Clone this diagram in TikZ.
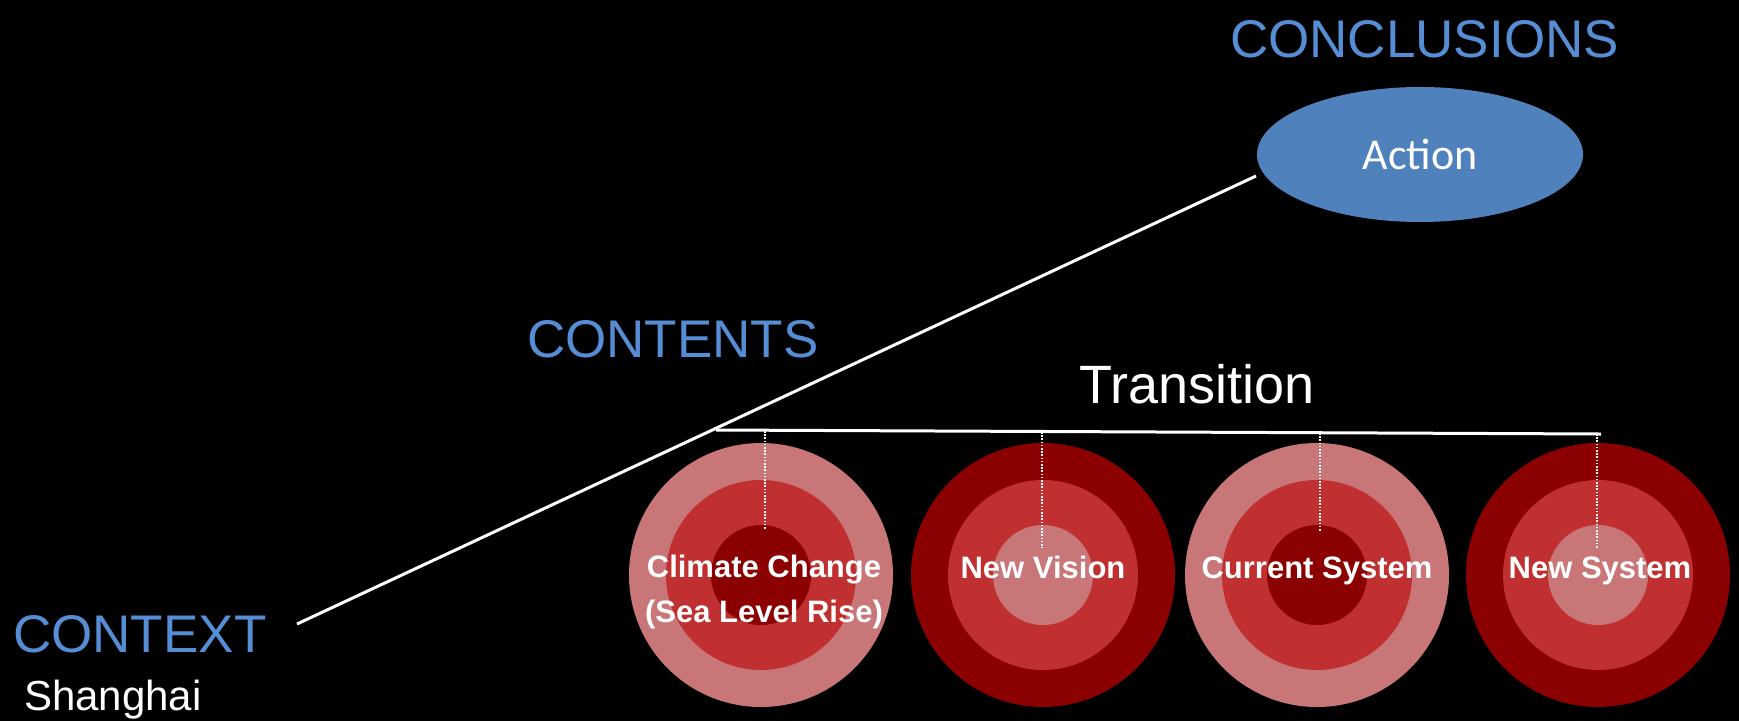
\documentclass[tikz,border=0pt]{standalone}
\usepackage{fontspec}
\setmainfont{Liberation Sans}
\newfontfamily\calib{Carlito}
\usetikzlibrary{shapes.geometric}
\definecolor{hblue}{RGB}{85,142,213}
\definecolor{ellblue}{RGB}{79,129,189}
\definecolor{pinkr}{RGB}{200,118,119}
\definecolor{midr}{RGB}{192,48,48}
\definecolor{darkr}{RGB}{139,0,0}
\begin{document}
\begin{tikzpicture}[x=1pt,y=-1pt,
  ringnode/.style={circle, inner sep=0pt, draw=none, minimum size=#1},
  heading/.style={text=hblue, inner sep=0pt, anchor=base west, font=\fontsize{53}{60}\selectfont},
  lab/.style={text=white, inner sep=0pt, anchor=base, align=center, font=\bfseries\fontsize{31}{45}\selectfont},
  wline/.style={draw=white, line width=3pt},
  dotline/.style={draw=white, line width=1.6pt, dash pattern=on 1.6pt off 1.6pt}]
\fill[black] (0,0) rectangle (1739,721);
\useasboundingbox (0,0) rectangle (1739,721);

% headings
\node[heading] (conclusions) at (1230,57) {CONCLUSIONS};
\node[heading] (contents) at (527,357) {CONTENTS};
\node[heading] (context) at (13,652) {CONTEXT};
\node[text=white, inner sep=0pt, anchor=base west, font=\fontsize{42}{50}\selectfont] (shanghai) at (24,710) {Shanghai};
\node[text=white, inner sep=0pt, anchor=base, font=\fontsize{54}{60}\selectfont] (transition) at (1197,403) {Transition};

% action ellipse
\node[ellipse, fill=ellblue, inner sep=0pt, minimum width=326pt, minimum height=135pt, text=white, font=\calib\fontsize{44}{52}\selectfont] (action) at (1420,154.5) {Action};

% diagonal line
\coordinate (d1) at (297,624);
\coordinate (d2) at (1256,176);
\draw[wline] (d1) -- (d2);

% horizontal line
\coordinate (h1) at (716,430);
\coordinate (h2) at (1601,434);
\draw[wline] (h1) -- (h2);

% circle 1 (pink, red, dark)
\node[ringnode=264pt, fill=pinkr] (c1o) at (761,575) {};
\node[ringnode=190pt, fill=midr] (c1m) at (761,575) {};
\node[ringnode=100pt, fill=darkr] (c1i) at (761,575) {};
% circle 2 (dark, red, pink)
\node[ringnode=264pt, fill=darkr] (c2o) at (1043,575) {};
\node[ringnode=190pt, fill=midr] (c2m) at (1043,575) {};
\node[ringnode=100pt, fill=pinkr] (c2i) at (1043,575) {};
% circle 3 (pink, red, dark)
\node[ringnode=264pt, fill=pinkr] (c3o) at (1317,575) {};
\node[ringnode=190pt, fill=midr] (c3m) at (1317,575) {};
\node[ringnode=100pt, fill=darkr] (c3i) at (1317,575) {};
% circle 4 (dark, red, pink)
\node[ringnode=264pt, fill=darkr] (c4o) at (1598,575) {};
\node[ringnode=190pt, fill=midr] (c4m) at (1598,575) {};
\node[ringnode=100pt, fill=pinkr] (c4i) at (1598,575) {};

% dotted drops
\coordinate (p1t) at (765,431);   \coordinate (p1b) at (765,530);
\coordinate (p2t) at (1042,432);  \coordinate (p2b) at (1042,548);
\coordinate (p3t) at (1320,433);  \coordinate (p3b) at (1320,532);
\coordinate (p4t) at (1597,434);  \coordinate (p4b) at (1597,548);
\draw[dotline] (p1t) -- (p1b);
\draw[dotline] (p2t) -- (p2b);
\draw[dotline] (p3t) -- (p3b);
\draw[dotline] (p4t) -- (p4b);

% labels
\node[lab] (t1) at (764,622) {Climate Change\\(Sea Level Rise)};
\node[lab] (t2) at (1043,578) {New Vision};
\node[lab] (t3) at (1317,578) {Current System};
\node[lab] (t4) at (1600,578) {New System};
\end{tikzpicture}
\end{document}
